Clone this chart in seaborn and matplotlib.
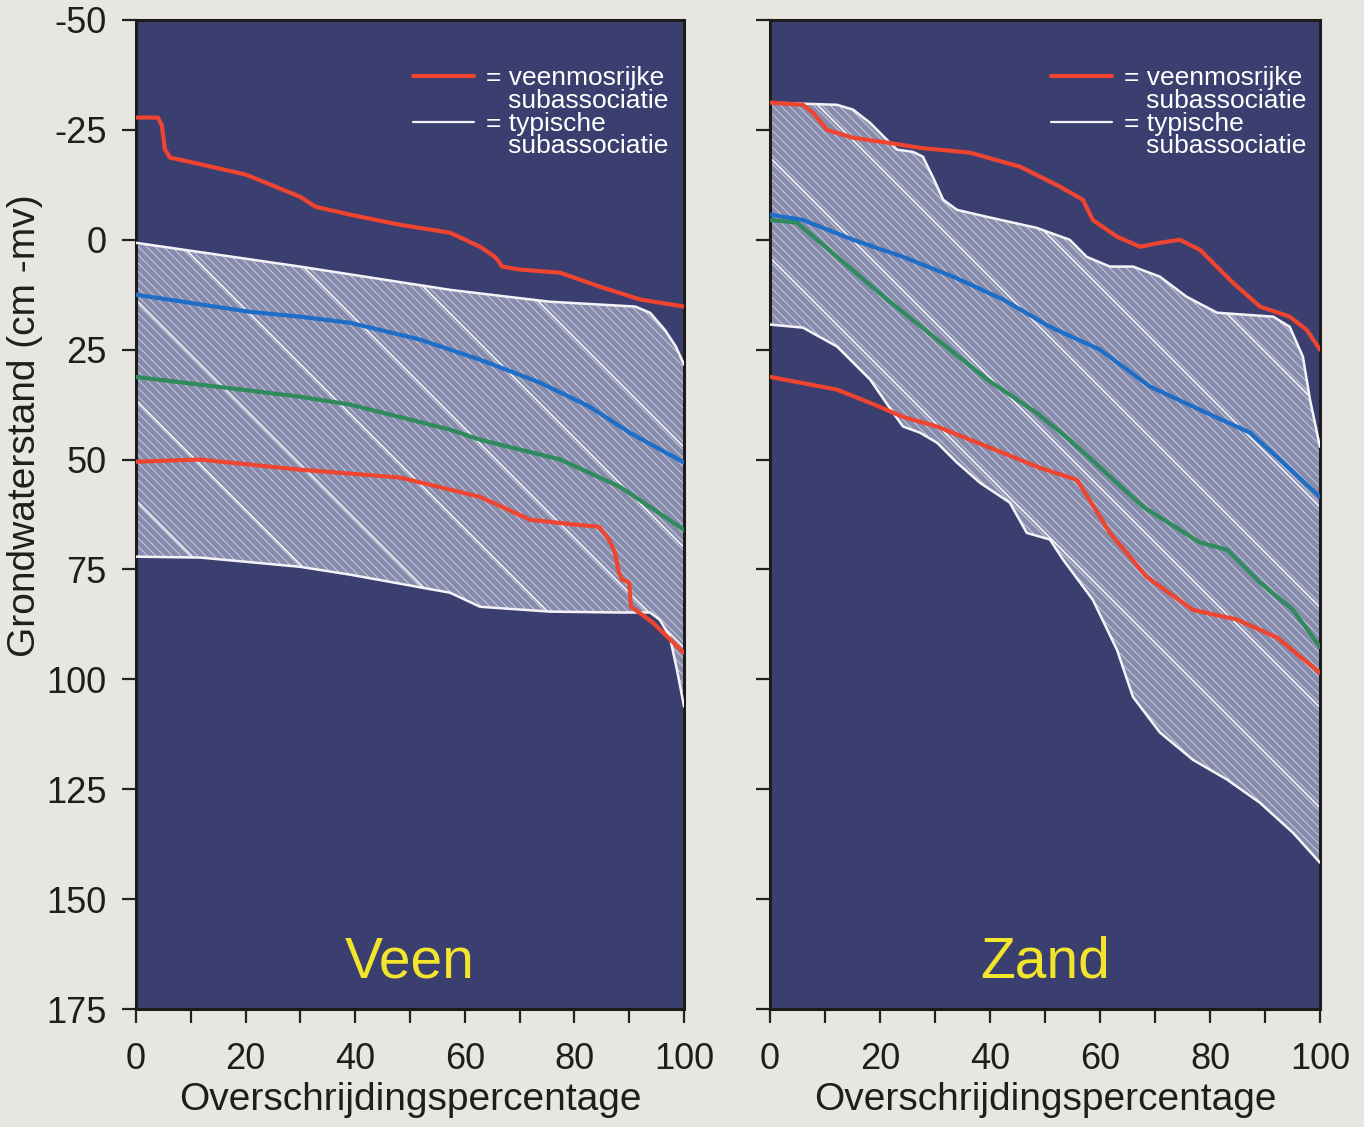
import numpy as np
import seaborn as sns
import matplotlib.pyplot as plt
from matplotlib.lines import Line2D

# Veen (left panel): x = overschrijdingspercentage, y = grondwaterstand (cm -mv)
veen_rood_boven_x = [0, 4.0, 4.7, 5.3, 6.2, 9.9, 20.1, 29.9, 32.8, 39.1, 48.2, 57.3, 62.8, 65.5, 66.2, 66.8, 70.1, 77.4, 84.7, 92.0, 100]
veen_rood_boven_y = [-27.8, -27.8, -26.1, -20.5, -18.7, -17.7, -14.8, -9.8, -7.5, -5.7, -3.4, -1.6, 1.6, 3.9, 5.0, 6.1, 6.8, 7.5, 10.7, 13.6, 15.2]
veen_rood_onder_x = [0, 11.7, 29.9, 48.2, 62.8, 71.9, 80.1, 84.5, 86.3, 87.4, 88.1, 88.7, 90.0, 90.3, 91.8, 94.3, 100]
veen_rood_onder_y = [50.5, 50.0, 52.3, 54.1, 58.5, 63.7, 64.8, 65.3, 68.2, 71.2, 75.7, 77.3, 78.0, 83.5, 84.8, 87.1, 94.0]
veen_wit_boven_x = [0, 29.9, 57.3, 75.5, 91.1, 93.8, 96.5, 98.5, 100]
veen_wit_boven_y = [0.7, 6.1, 11.4, 14.1, 15.2, 16.6, 20.5, 24.3, 28.4]
veen_wit_onder_x = [0, 11.7, 29.9, 39.1, 57.3, 62.8, 75.5, 88.3, 93.8, 95.6, 97.4, 98.7, 100]
veen_wit_onder_y = [72.1, 72.3, 74.4, 76.2, 80.3, 83.5, 84.6, 84.8, 84.8, 86.5, 90.3, 97.8, 106.2]
veen_blauw_x = [0, 20.8, 29.9, 39.1, 51.8, 62.8, 73.7, 82.8, 90.1, 100]
veen_blauw_y = [12.5, 16.4, 17.5, 18.9, 22.7, 27.3, 32.5, 38.0, 43.9, 50.7]
veen_groen_x = [0, 29.9, 39.1, 57.3, 62.8, 77.4, 88.3, 100]
veen_groen_y = [31.2, 35.7, 37.5, 43.2, 45.5, 50.0, 56.2, 66.0]

# Zand (right panel)
zand_rood_boven_x = [0, 6.0, 7.8, 10.4, 15.1, 21.3, 27.3, 36.4, 45.5, 52.7, 56.9, 58.7, 63.1, 67.3, 70.9, 74.5, 78.2, 84.2, 89.1, 94.5, 97.6, 100]
zand_rood_boven_y = [-31.2, -30.7, -28.9, -25.0, -23.2, -22.1, -20.9, -19.8, -16.6, -12.1, -9.1, -4.5, -0.7, 1.6, 0.7, 0.0, 2.3, 9.8, 15.2, 17.5, 20.5, 25.0]
zand_rood_onder_x = [0, 12.2, 18.2, 24.2, 30.4, 36.4, 42.4, 49.1, 55.8, 60.0, 61.8, 68.5, 76.9, 84.9, 92.2, 100]
zand_rood_onder_y = [31.2, 34.1, 37.1, 40.3, 42.5, 45.5, 48.5, 51.9, 54.6, 63.0, 66.7, 76.7, 84.2, 86.4, 90.5, 98.5]
zand_wit_boven_x = [0, 12.2, 15.1, 18.2, 21.3, 23.1, 26.0, 27.8, 29.6, 31.5, 34.0, 39.5, 48.5, 54.5, 57.6, 61.8, 66.0, 70.9, 75.8, 81.3, 91.5, 94.5, 96.9, 98.2, 100]
zand_wit_boven_y = [-31.2, -30.7, -29.6, -26.6, -22.7, -20.5, -20.0, -18.9, -14.3, -9.1, -6.8, -5.2, -2.7, 0.0, 3.9, 6.1, 6.1, 8.4, 13.0, 16.6, 17.5, 19.8, 26.6, 36.4, 47.1]
zand_wit_onder_x = [0, 6.0, 12.2, 18.2, 22.4, 24.2, 27.3, 30.4, 34.0, 38.2, 43.6, 46.7, 50.9, 53.3, 58.7, 63.1, 66.0, 70.9, 76.9, 83.1, 89.1, 95.1, 100]
zand_wit_onder_y = [19.3, 20.0, 24.3, 31.8, 39.4, 42.5, 43.9, 46.2, 50.7, 55.3, 59.8, 66.7, 68.2, 72.8, 81.9, 93.3, 104.0, 112.1, 118.3, 122.8, 128.1, 134.9, 141.7]
zand_blauw_x = [0, 6.0, 15.1, 24.2, 33.3, 42.4, 50.9, 60.0, 69.1, 78.2, 87.3, 93.3, 100]
zand_blauw_y = [-5.7, -4.5, 0.0, 3.9, 8.4, 13.6, 19.8, 25.0, 33.4, 38.7, 43.9, 50.7, 58.5]
zand_groen_x = [0, 4.9, 12.2, 21.3, 30.4, 39.5, 48.5, 54.5, 67.8, 78.2, 83.1, 89.1, 95.1, 100]
zand_groen_y = [-4.5, -3.9, 3.9, 13.6, 22.7, 31.8, 39.4, 45.5, 60.7, 68.9, 70.5, 78.0, 84.2, 92.6]

y_ticks = [-50, -25, 0, 25, 50, 75, 100, 125, 150, 175]
x_ticks = [0, 20, 40, 60, 80, 100]
x_minor = [10, 30, 50, 70, 90]
leg_labels = ['= veenmosrijke', '   subassociatie', '= typische', '   subassociatie']

# colours
c_bg = '#e8e6e1'
c_navy = '#3b3f6f'
c_band = '#878cad'
c_red = '#ee4430'
c_blue = '#1e6ec8'
c_green = '#2f8a5c'
c_white = '#f4f4f8'
c_yellow = '#f3e52c'
c_text = '#1e1e1e'

sns.set_style('ticks')
plt.rcParams['font.family'] = ['Liberation Sans', 'DejaVu Sans']
plt.rcParams['axes.unicode_minus'] = False
plt.rcParams['hatch.linewidth'] = 0.5


def draw_panel(ax, rood_b, rood_o, wit_b, wit_o, blauw, groen, naam, hatch_start, slope, leg_x):
    ax.set_facecolor(c_navy)
    # hatched band between the two white lines
    band = ax.fill(np.r_[wit_b[0], wit_o[0][::-1]],
                   np.r_[wit_b[1], wit_o[1][::-1]],
                   facecolor=c_band, edgecolor='#dfe1ec', hatch='\\\\\\\\', lw=0, zorder=1)[0]
    for k in range(-12, 12):
        ln = ax.axline((0, hatch_start + 22.8 * k), slope=slope, color=c_white, lw=1.2, zorder=2)
        ln.set_clip_path(band)

    sns.lineplot(x=wit_b[0], y=wit_b[1], ax=ax, color=c_white, lw=1.8, sort=False, estimator=None, zorder=3)
    sns.lineplot(x=wit_o[0], y=wit_o[1], ax=ax, color=c_white, lw=1.8, sort=False, estimator=None, zorder=3)
    sns.lineplot(x=groen[0], y=groen[1], ax=ax, color=c_green, lw=3, sort=False, estimator=None, zorder=4)
    sns.lineplot(x=blauw[0], y=blauw[1], ax=ax, color=c_blue, lw=3, sort=False, estimator=None, zorder=4)
    sns.lineplot(x=rood_b[0], y=rood_b[1], ax=ax, color=c_red, lw=3, sort=False, estimator=None, zorder=5)
    sns.lineplot(x=rood_o[0], y=rood_o[1], ax=ax, color=c_red, lw=3, sort=False, estimator=None, zorder=5)

    ax.set_xlim(0, 100)
    ax.set_ylim(175, -50)
    ax.set_yticks(y_ticks)
    ax.set_xticks(x_ticks)
    ax.set_xticks(x_minor, minor=True)
    ax.tick_params(axis='both', which='both', direction='out', length=10, width=1.6, color='#222222',
                   labelsize=26, labelcolor=c_text)
    ax.tick_params(axis='x', which='both', pad=14)
    ax.tick_params(axis='y', pad=11)
    for s in ax.spines.values():
        s.set_color('#1c1c1c')
        s.set_linewidth(2.2)
        s.set_visible(True)
    ax.set_xlabel('Overschrijdingspercentage', fontsize=28, color=c_text, labelpad=3)
    ax.set_ylabel('')

    ax.text(50, 167.9, naam, color=c_yellow, fontsize=41, ha='center', va='baseline')

    handles = [Line2D([], [], color=c_red, lw=3),
               Line2D([], [], color='none'),
               Line2D([], [], color=c_white, lw=1.6),
               Line2D([], [], color='none')]
    leg = ax.legend(handles, leg_labels, loc='upper left', bbox_to_anchor=(leg_x, 0.953),
                    frameon=False, fontsize=19, labelcolor='white', handlelength=2.3,
                    handletextpad=0.45, labelspacing=-0.05, borderpad=0, borderaxespad=0)
    leg.set_zorder(6)


fig = plt.figure(figsize=(13.64, 11.27), dpi=100, facecolor=c_bg)
axL = fig.add_axes([0.0997, 0.1047, 0.4018, 0.8776])
axR = fig.add_axes([0.5645, 0.1047, 0.4032, 0.8776])

draw_panel(axL,
           (np.array(veen_rood_boven_x), np.array(veen_rood_boven_y)),
           (np.array(veen_rood_onder_x), np.array(veen_rood_onder_y)),
           (np.array(veen_wit_boven_x), np.array(veen_wit_boven_y)),
           (np.array(veen_wit_onder_x), np.array(veen_wit_onder_y)),
           (np.array(veen_blauw_x), np.array(veen_blauw_y)),
           (np.array(veen_groen_x), np.array(veen_groen_y)),
           'Veen', 13.7, 1.247, 0.506)
draw_panel(axR,
           (np.array(zand_rood_boven_x), np.array(zand_rood_boven_y)),
           (np.array(zand_rood_onder_x), np.array(zand_rood_onder_y)),
           (np.array(zand_wit_boven_x), np.array(zand_wit_boven_y)),
           (np.array(zand_wit_onder_x), np.array(zand_wit_onder_y)),
           (np.array(zand_blauw_x), np.array(zand_blauw_y)),
           (np.array(zand_groen_x), np.array(zand_groen_y)),
           'Zand', -18.7, 1.251, 0.511)

axL.set_ylabel('Grondwaterstand (cm -mv)', fontsize=28, color=c_text)
axL.yaxis.set_label_coords(-0.17, 0.59)
axR.tick_params(axis='y', labelleft=False)

fig.savefig('out.png', dpi=100, facecolor=c_bg)
